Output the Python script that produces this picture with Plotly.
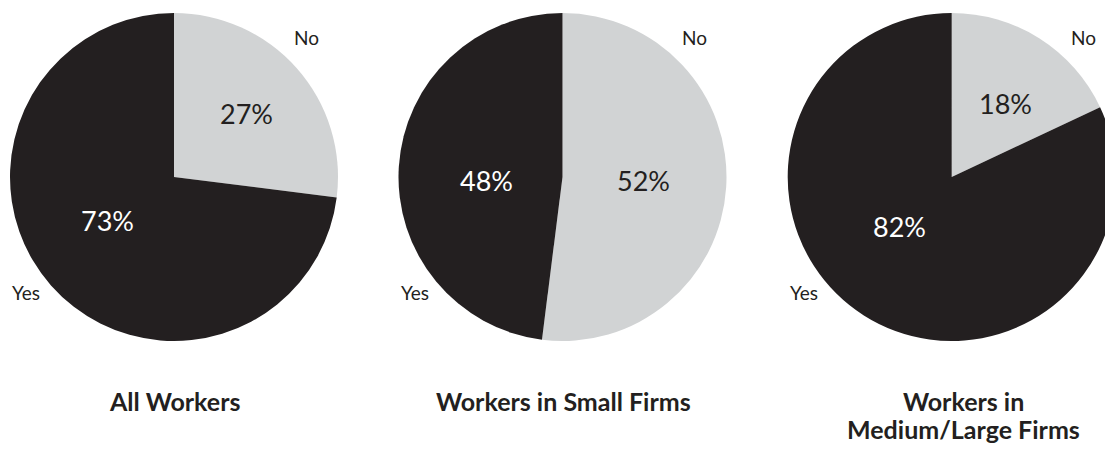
import plotly.graph_objects as go

# Share of workers answering each way, per group
groups = ["All Workers", "Workers in Small Firms", "Workers in<br>Medium/Large Firms"]
answers = ["No", "Yes"]
no_pct = [27, 52, 18]
yes_pct = [73, 48, 82]

COLORS = ["#d1d3d4", "#231f20"]
TEXT_COLORS = ["#231f20", "#ffffff"]
FONT = "Lato, 'Open Sans', sans-serif"

W, H = 1116, 457
R = 164                      # pie radius in px
CY = 177                     # pie centre, px from top
CX = [174, 562.5, 951.7]     # pie centres, px from left
TITLE_X = [174, 563, 963]
TITLE_Y = 401                # first title line, px from top
TITLE_LEAD = 28              # spacing between title lines
# where each percentage sits, relative to its pie centre (px): (No, Yes)
PCT_OFFSETS = [
    [(72, -64), (-66.5, 43)],
    [(80.5, 3), (-76.5, 3)],
    [(54, -74), (-52.7, 49)],
]


def px_x(v):
    return v / W


def px_y(v):
    return 1 - v / H


fig = go.Figure()
for i, g in enumerate(groups):
    fig.add_trace(go.Pie(
        labels=answers,
        values=[no_pct[i], yes_pct[i]],
        sort=False,
        direction="clockwise",
        rotation=0,
        marker=dict(colors=COLORS, line=dict(width=0)),
        textinfo="none",
        hoverinfo="label+value",
        showlegend=False,
        domain=dict(x=[px_x(CX[i] - R), min(1, px_x(CX[i] + R))],
                    y=[px_y(CY + R), px_y(CY - R)]),
    ))

annotations = []
base = dict(xref="paper", yref="paper", showarrow=False, xanchor="center", yanchor="middle")
for i, g in enumerate(groups):
    for k, v in enumerate([no_pct[i], yes_pct[i]]):
        dx, dy = PCT_OFFSETS[i][k]
        annotations.append(dict(base, text=f"{v}%", x=px_x(CX[i] + dx), y=px_y(CY + dy),
                                font=dict(family=FONT, size=27, color=TEXT_COLORS[k])))
    annotations.append(dict(base, text="No", x=px_x(CX[i] + 132), y=px_y(CY - 139.5),
                            font=dict(family=FONT, size=19, color="#231f20")))
    annotations.append(dict(base, text="Yes", x=px_x(CX[i] - 148), y=px_y(CY + 115.5),
                            font=dict(family=FONT, size=19, color="#231f20")))
    for j, line in enumerate(g.split("<br>")):
        annotations.append(dict(base, text="<b>" + line + "</b>", x=px_x(TITLE_X[i]),
                                y=px_y(TITLE_Y + j * TITLE_LEAD),
                                font=dict(family=FONT, size=25, color="#231f20")))

fig.update_layout(
    width=W, height=H,
    margin=dict(l=0, r=0, t=0, b=0),
    paper_bgcolor="white",
    plot_bgcolor="white",
    annotations=annotations,
)

fig.write_html(
    "out.html",
    post_script="document.documentElement.style.overflow='hidden';document.body.style.overflow='hidden';document.body.style.margin='0';",
)
